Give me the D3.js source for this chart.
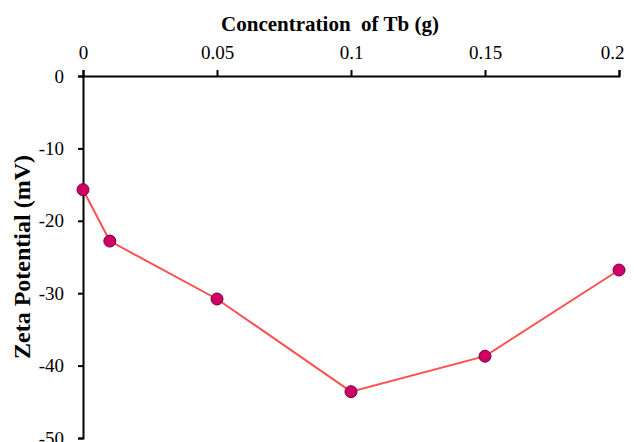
<!DOCTYPE html>
<html><head><meta charset="utf-8">
<script src="https://cdn.jsdelivr.net/npm/d3@7"></script>
<style>body{margin:0;background:#fff}svg{display:block}</style>
</head><body>
<svg id="c" width="634" height="442"></svg>
<script>
const concentrations = [0, 0.01, 0.05, 0.1, 0.15, 0.2];
const zeta = [-15.7, -22.8, -30.8, -43.6, -38.7, -26.8];
const xTicks = [0, 0.05, 0.1, 0.15, 0.2];
const yTicks = [0, -10, -20, -30, -40, -50];

const svg = d3.select("#c");
const x = d3.scaleLinear().domain([0, 0.2]).range([83, 619]);
const y = d3.scaleLinear().domain([0, -50]).range([76, 438]);
const font = "'Liberation Serif', 'Times New Roman', serif";

const xAxis = svg.append("g").attr("transform", `translate(0,${y(0)})`)
  .call(d3.axisTop(x).tickValues(xTicks).tickFormat(d => String(d)).tickSizeOuter(0).tickSize(6).tickPadding(11));
const yAxis = svg.append("g").attr("transform", `translate(${x(0)},0)`)
  .call(d3.axisLeft(y).tickValues(yTicks).tickFormat(d => String(d)).tickSizeOuter(0).tickSize(5).tickPadding(14));
[xAxis, yAxis].forEach(g => {
  g.select(".domain").attr("stroke", "#000").attr("stroke-width", 2);
  g.selectAll(".tick line").attr("stroke", "#000").attr("stroke-width", 2);
  g.selectAll(".tick text").attr("font-family", font).attr("font-size", 19).attr("fill", "#000");
});
xAxis.selectAll(".tick text").filter(d => d === 0.2).attr("dx", -7);

svg.append("text").attr("x", 330).attr("y", 31).attr("text-anchor", "middle")
  .attr("font-family", font).attr("font-size", 21).attr("font-weight", "bold")
  .attr("xml:space", "preserve").text("Concentration  of Tb (g)");
svg.append("text").attr("transform", "translate(30,257) rotate(-90)").attr("text-anchor", "middle")
  .attr("font-family", font).attr("font-size", 24).attr("font-weight", "bold")
  .text("Zeta Potential (mV)");

const data = concentrations.map((c, i) => ({c, v: zeta[i]}));
svg.append("path").datum(data)
  .attr("fill", "none").attr("stroke", "#ff4f4f").attr("stroke-width", 2)
  .attr("d", d3.line().x(d => x(d.c)).y(d => y(d.v)));
svg.selectAll("circle.pt").data(data).enter().append("circle")
  .attr("class", "pt").attr("cx", d => x(d.c)).attr("cy", d => y(d.v)).attr("r", 6)
  .attr("fill", "#cc0066").attr("stroke", "#7a0033").attr("stroke-width", 1);
</script>
</body></html>
